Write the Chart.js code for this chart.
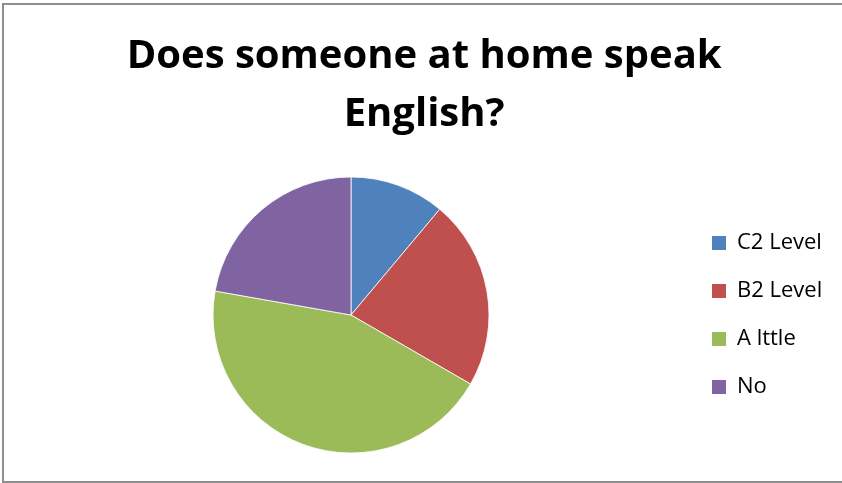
<!DOCTYPE html>
<html>
<head>
<meta charset="utf-8">
<script src="https://cdn.jsdelivr.net/npm/chart.js@4/dist/chart.umd.min.js"></script>
<style>
  html, body { margin: 0; padding: 0; background: #fff; overflow: hidden; }
  #wrap { position: relative; width: 842px; height: 483px; }
  #frame {
    position: absolute; left: 2px; top: 3px; width: 860px; height: 480px;
    border: 2px solid #8e8e8e; box-sizing: border-box; pointer-events: none;
  }
  canvas { position: absolute; left: 0; top: 0; }
</style>
</head>
<body>
<div id="wrap">
  <canvas id="pie-chart" width="842" height="483"></canvas>
  <div id="frame"></div>
</div>
<script>
  // Chart data
  const titleLines = ["Does someone at home speak", "English?"];
  const answers = ["C2 Level", "B2 Level", "A lttle", "No"];
  const counts = [1, 2, 4, 2];
  const sliceColors = ["#4f81bd", "#c0504d", "#9bbb59", "#8064a2"];

  const legendFont = { family: "'Open Sans', sans-serif", size: 22 };
  const legendPad = 26;
  const boxSize = 14;

  // work out the legend width so the pie and the legend land where they should
  function legendWidth() {
    const ctx = document.createElement("canvas").getContext("2d");
    ctx.font = legendFont.size + "px " + legendFont.family;
    let widest = 0;
    for (let a of answers) {
      widest = Math.max(widest, ctx.measureText(a).width);
    }
    return legendPad + boxSize + legendFont.size / 2 + widest + 10;
  }

  const legendLeft = 686;
  let rightPad = 842 - legendLeft - legendWidth();
  let legendMax = undefined;
  if (rightPad < 0) {
    legendMax = 842 - legendLeft;
    rightPad = 0;
  }

  const ctx = document.getElementById("pie-chart").getContext("2d");
  new Chart(ctx, {
    type: "pie",
    data: {
      labels: answers,
      datasets: [{
        data: counts,
        backgroundColor: sliceColors,
        borderColor: "rgba(255, 255, 255, 0.8)",
        borderWidth: 1,
        radius: 138,
      }],
    },
    options: {
      responsive: false,
      animation: false,
      devicePixelRatio: 1,
      layout: {
        padding: { top: 0, left: 16, right: rightPad, bottom: 30 },
      },
      plugins: {
        tooltip: { enabled: false },
        title: {
          display: true,
          text: titleLines,
          color: "#000",
          font: { family: "'Open Sans', sans-serif", size: 40, weight: "bold", lineHeight: 1.45 },
          padding: { top: 28, bottom: 33 },
        },
        legend: {
          position: "right",
          fullSize: false,
          maxWidth: legendMax,
          labels: {
            color: "#000",
            font: legendFont,
            boxWidth: boxSize,
            boxHeight: boxSize,
            padding: legendPad,
            generateLabels: (chart) =>
              Chart.overrides.pie.plugins.legend.labels.generateLabels(chart)
                .map((item) => ({ ...item, lineWidth: 0 })),
          },
        },
      },
    },
  });
</script>
</body>
</html>
